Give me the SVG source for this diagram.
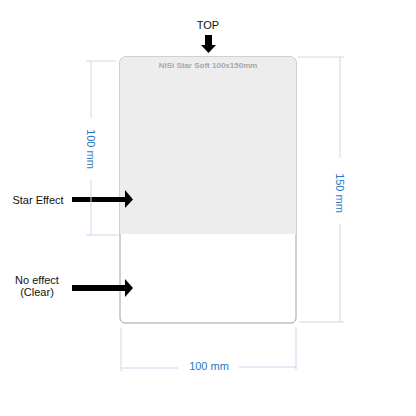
<svg xmlns="http://www.w3.org/2000/svg" width="416" height="416" viewBox="0 0 416 416">
<style>
.lbl{font-family:"Liberation Sans",Arial,sans-serif;font-size:11px;fill:#111}
.dim{font-family:"Liberation Sans",Arial,sans-serif;font-size:11px;fill:#2b78c0}
.dl{stroke:#c9d8ea;stroke-width:1;fill:none}
.arr{fill:#000}
</style>
<rect width="416" height="416" fill="#fff"/>
<g id="card">
<rect x="120" y="57" width="176" height="266" rx="5" fill="#fff" stroke="#a0a0a0" stroke-width="1"/>
<path d="M120,234 V62 a5,5 0 0 1 5,-5 H291 a5,5 0 0 1 5,5 V234 Z" fill="#ededed"/>
<text x="208" y="67.5" text-anchor="middle" font-family="Liberation Sans,Arial,sans-serif" font-size="8" font-weight="bold" fill="#a8a8a8">NiSi Star Soft 100x150mm</text>
</g>
<g id="top-label">
<text class="lbl" x="208" y="29" text-anchor="middle">TOP</text>
<path class="arr" d="M205,35 H212 V45 H216 L208.5,53 L201,45 H205 Z"/>
</g>
<g id="star-effect">
<text class="lbl" x="38" y="204" text-anchor="middle">Star Effect</text>
<path class="arr" d="M72,197 H125 V190 L133,199.5 L125,208 V202 H72 Z"/>
</g>
<g id="no-effect">
<text class="lbl" x="37" y="284" text-anchor="middle">No effect</text>
<text class="lbl" x="37" y="296" text-anchor="middle">(Clear)</text>
<path class="arr" d="M72,285 H125 V279 L133,288 L125,297 V291 H72 Z"/>
</g>
<g id="dimensions">
<path class="dl" d="M86,61 H116 M86,235 H119 M91,61 V118 M91,180 V235"/>
<text class="dim" transform="translate(87,149) rotate(90)" text-anchor="middle">100 mm</text>
<path class="dl" d="M298,57 H344 M299,322 H344 M340,57 V158 M340,224 V322"/>
<text class="dim" transform="translate(336,193) rotate(90)" text-anchor="middle">150 mm</text>
<path class="dl" d="M121,328 V371 M296,327 V370 M121,368 H178 M239,367 H296"/>
<text class="dim" x="209" y="370" text-anchor="middle">100 mm</text>
</g>
</svg>
